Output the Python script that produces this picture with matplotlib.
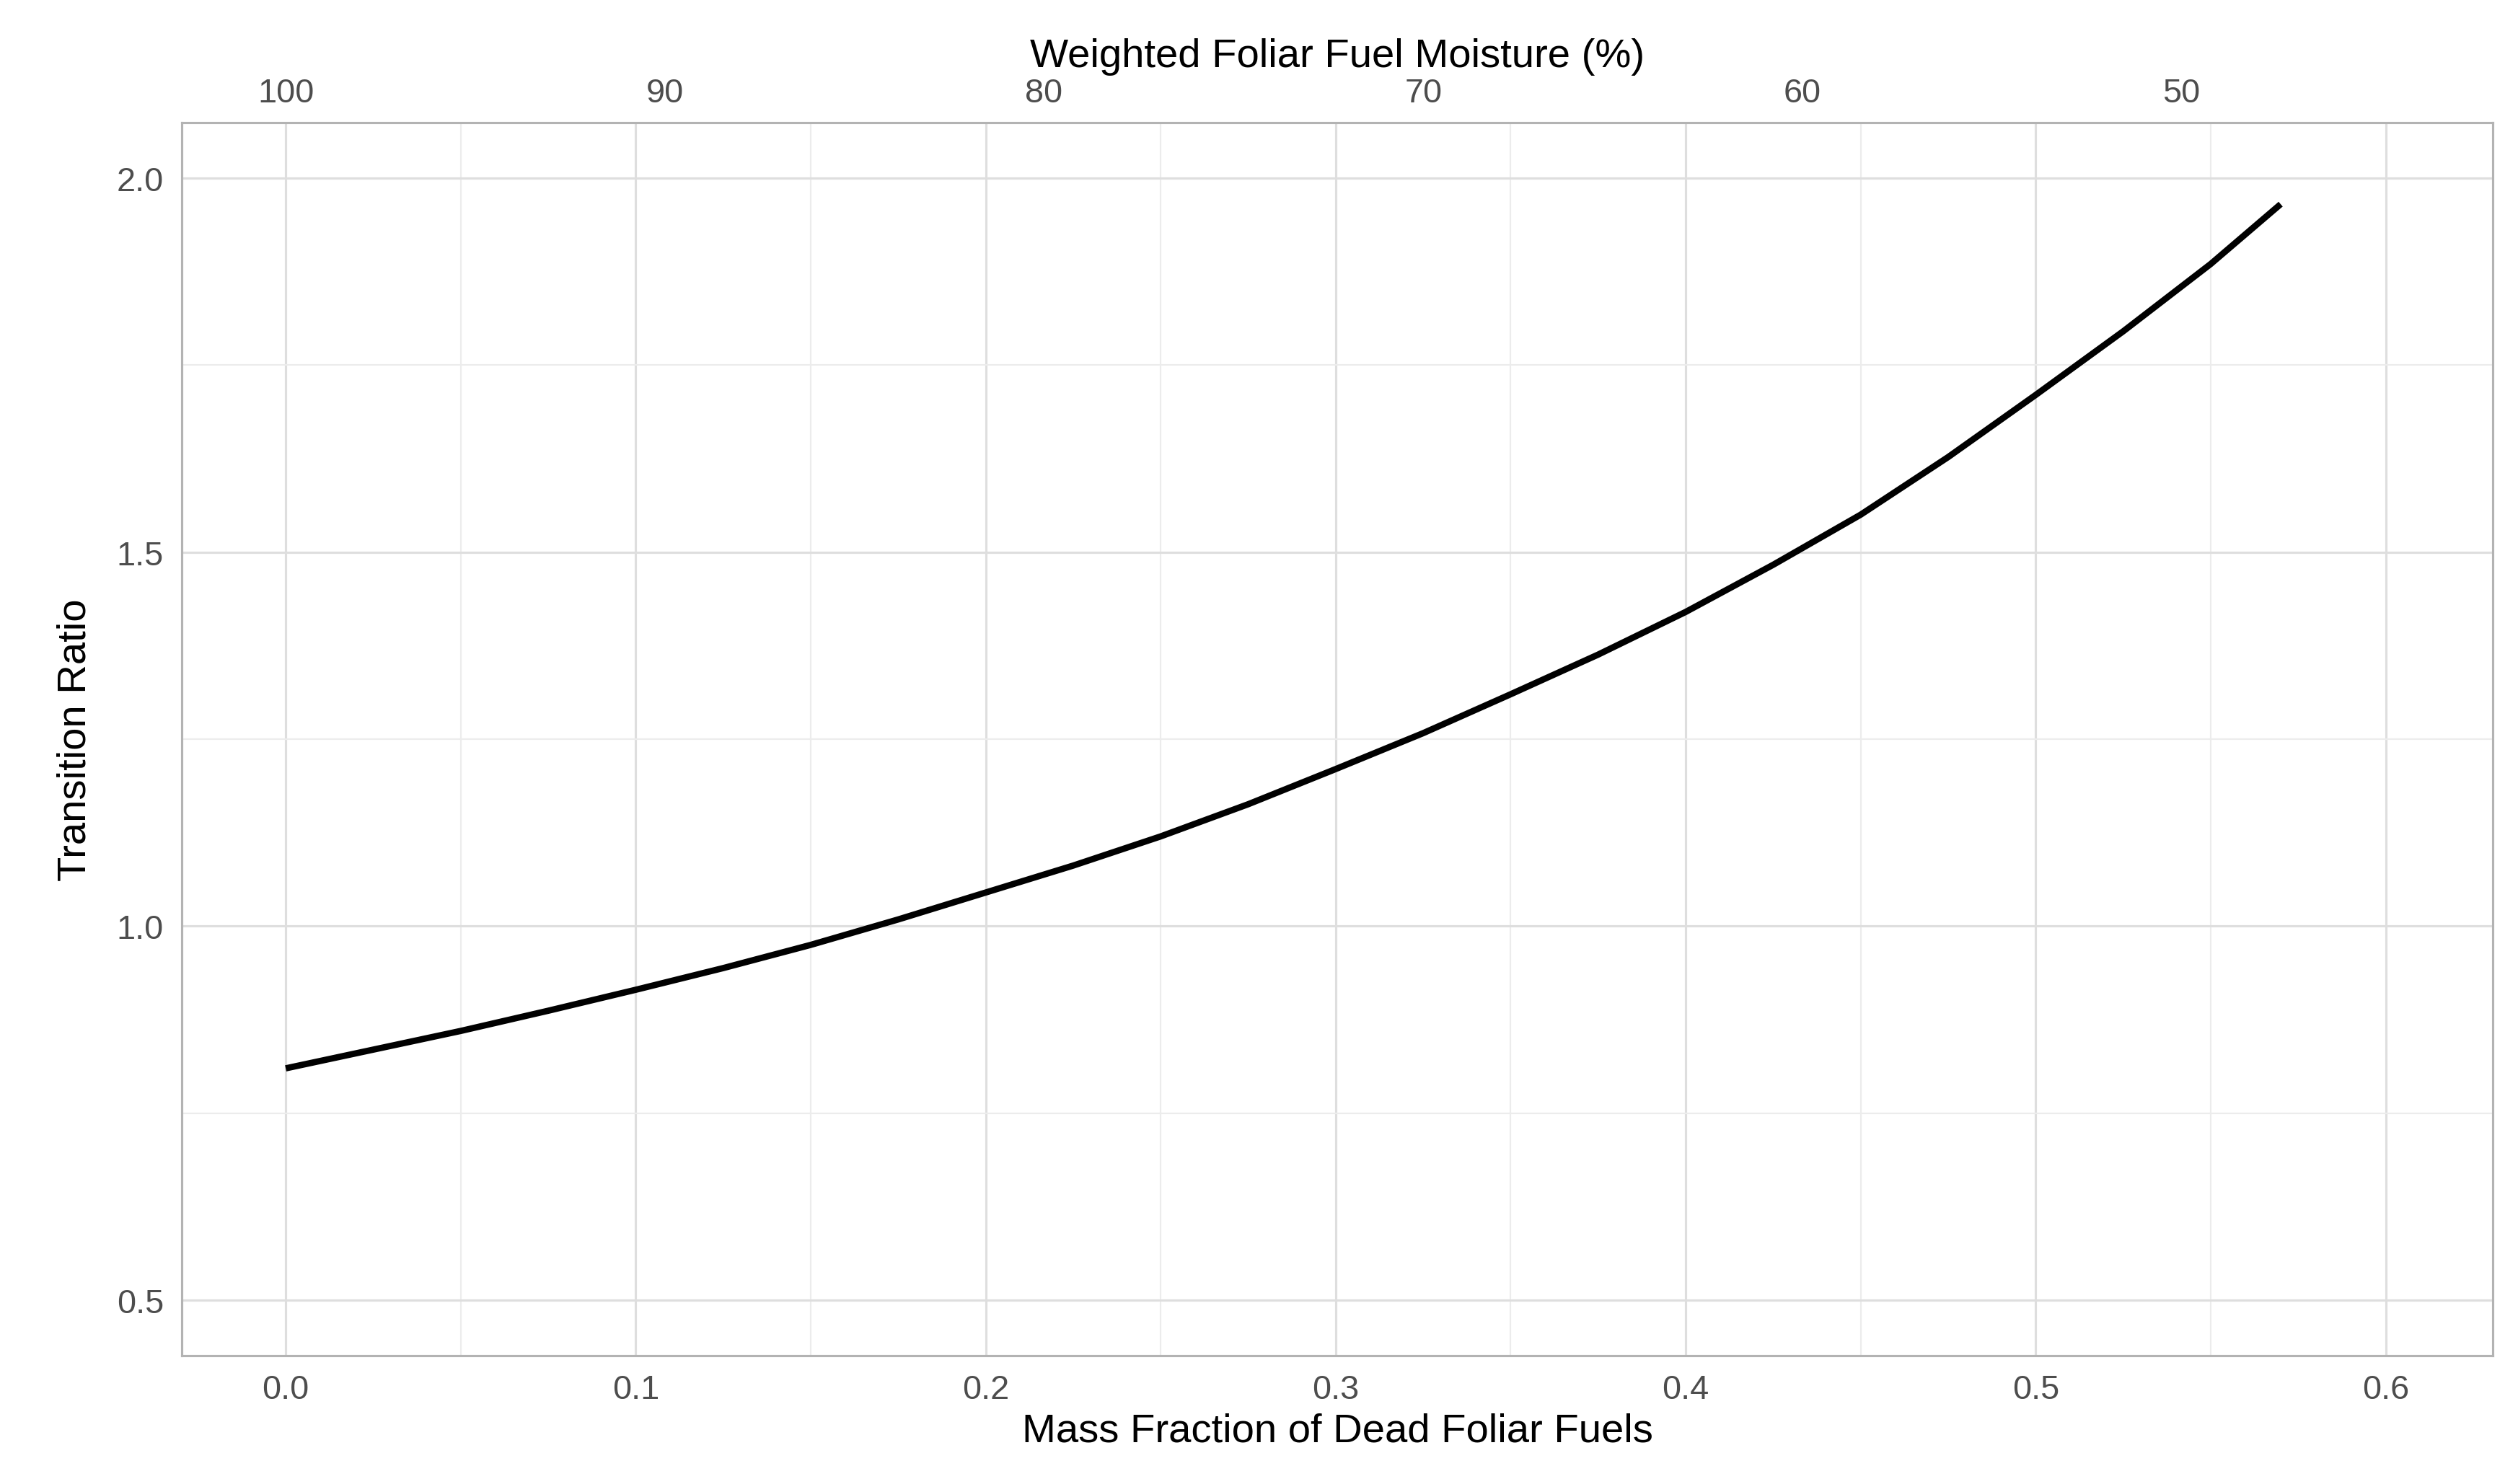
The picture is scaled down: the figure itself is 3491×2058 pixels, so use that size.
import matplotlib.pyplot as plt
from matplotlib.ticker import MultipleLocator

# Transition ratio
dead_fraction = [0.0, 0.025, 0.05, 0.075, 0.10, 0.125, 0.15, 0.175, 0.20, 0.225,
                 0.25, 0.275, 0.30, 0.325, 0.35, 0.375, 0.40, 0.425, 0.45, 0.475,
                 0.50, 0.525, 0.55, 0.56, 0.57]
transition_ratio = [0.81, 0.835, 0.86, 0.887, 0.915, 0.944, 0.975, 1.009, 1.045, 1.081,
                    1.12, 1.163, 1.21, 1.258, 1.31, 1.363, 1.42, 1.483, 1.55, 1.627,
                    1.71, 1.795, 1.885, 1.925, 1.965]

moisture_ticks = [100, 90, 80, 70, 60, 50]
moisture_slope = 92.3  # % moisture lost per unit dead fraction


def frac_to_moist(f):
    return 100 - moisture_slope * f


def moist_to_frac(m):
    return (100 - m) / moisture_slope


plt.rcParams['font.family'] = ['Liberation Sans', 'DejaVu Sans']
fig = plt.figure(figsize=(15.516, 9.151), dpi=225)
ax = fig.add_axes([112 / 1551.6, 1 - 836 / 915.1, 1424 / 1551.6, 760 / 915.1])

ax.plot(dead_fraction, transition_ratio, color="black", lw=2.8, solid_capstyle="butt",
        solid_joinstyle="round", zorder=3)

ax.set_xlim(-0.0297, 0.6306)
ax.set_ylim(0.426, 2.074)
ax.xaxis.set_major_locator(MultipleLocator(0.1))
ax.xaxis.set_minor_locator(MultipleLocator(0.05))
ax.yaxis.set_major_locator(MultipleLocator(0.5))
ax.yaxis.set_minor_locator(MultipleLocator(0.25))
ax.grid(which="major", color="#dedede", lw=1.0)
ax.grid(which="minor", color="#ececec", lw=0.7)
ax.set_axisbelow(True)
for s in ax.spines.values():
    s.set_color("#b3b3b3")
    s.set_linewidth(1.0)
ax.tick_params(which="both", length=0, labelsize=15, labelcolor="#4d4d4d", pad=8)
ax.set_xticks([0.0, 0.1, 0.2, 0.3, 0.4, 0.5, 0.6])
ax.set_xticklabels(["0.0", "0.1", "0.2", "0.3", "0.4", "0.5", "0.6"])
ax.set_yticks([0.5, 1.0, 1.5, 2.0])
ax.set_yticklabels(["0.5", "1.0", "1.5", "2.0"])

ax.set_xlabel("Mass Fraction of Dead Foliar Fuels", fontsize=18, labelpad=3)
ax.set_ylabel("Transition Ratio", fontsize=18, labelpad=10)

top = ax.secondary_xaxis("top", functions=(frac_to_moist, moist_to_frac))
top.set_xticks(moisture_ticks)
top.tick_params(length=0, labelsize=15, labelcolor="#4d4d4d", pad=6)
top.spines["top"].set_visible(False)
top.set_xlabel("Weighted Foliar Fuel Moisture (%)", fontsize=18, labelpad=5)

fig.savefig("out.png", dpi=225)
